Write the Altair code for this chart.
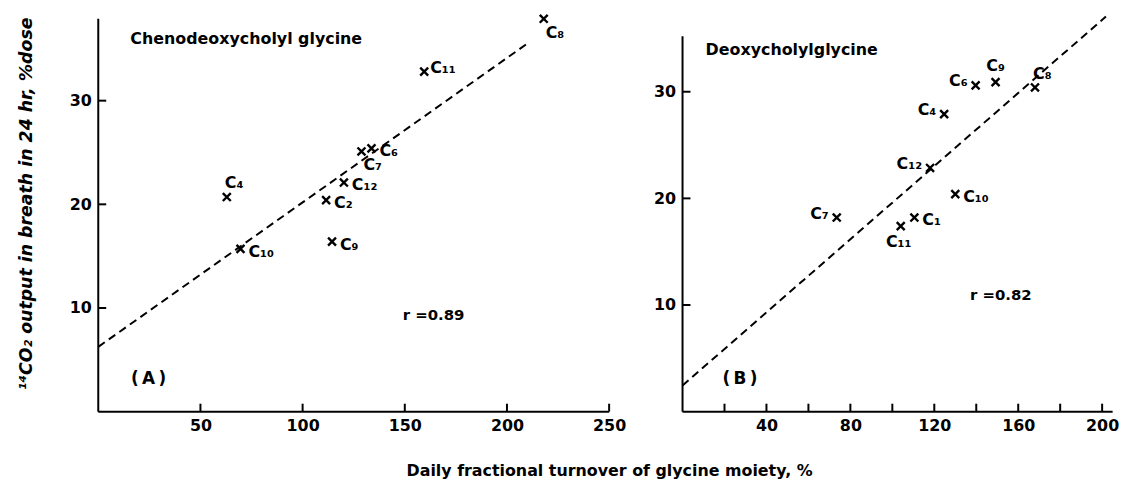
import altair as alt
import pandas as pd

FONT = "DejaVu Sans"
SUB = str.maketrans("0123456789", "₀₁₂₃₄₅₆₇₈₉")

# ---------------- Panel A : Chenodeoxycholylglycine ----------------
a_ids = ["8", "11", "6", "7", "12", "2", "4", "9", "10"]
a_turnover = [218.0, 159.5, 133.7, 128.8, 120.2, 111.5, 62.9, 114.4, 69.6]
a_output = [37.9, 32.8, 25.4, 25.1, 22.1, 20.4, 20.7, 16.4, 15.7]
a_place = ["br", "rr", "r", "br", "r", "r", "ar", "r", "r"]
a_fit_x = [0.0, 210.6]
a_fit_y = [6.25, 35.6]
a_xticks = [50, 100, 150, 200, 250]
a_xlabels = [50, 100, 150, 200, 250]
a_yticks = [10, 20, 30]

# ---------------- Panel B : Deoxycholylglycine ----------------
b_ids = ["8", "9", "6", "4", "12", "10", "1", "11", "7"]
b_turnover = [168.0, 149.2, 139.7, 124.7, 118.0, 130.0, 110.5, 104.0, 73.5]
b_output = [30.4, 30.9, 30.6, 27.9, 22.85, 20.4, 18.2, 17.4, 18.2]
b_place = ["ar", "a", "l", "l", "l", "r", "r", "b", "l"]
b_fit_x = [0.0, 201.8]
b_fit_y = [2.45, 37.05]
b_xticks = [20, 40, 60, 80, 100, 120, 140, 160, 180, 200]
b_xlabels = [40, 80, 120, 160, 200]
b_yticks = [10, 20, 30]

x_title = "Daily fractional turnover of glycine moiety, %"
y_title = "¹⁴CO₂ output in breath in 24 hr, %dose"

PLACE = {
    "r": dict(align="left", baseline="middle", dx=8, dy=3),
    "rr": dict(align="left", baseline="middle", dx=6, dy=-4),
    "l": dict(align="right", baseline="middle", dx=-8, dy=-4),
    "a": dict(align="center", baseline="bottom", dx=0, dy=-8),
    "b": dict(align="center", baseline="top", dx=-2, dy=8),
    "ar": dict(align="left", baseline="bottom", dx=-2, dy=-6),
    "br": dict(align="left", baseline="top", dx=2, dy=6),
}

XPATH = "M-1,-1L1,1M1,-1L-1,1"
H = 400


def panel(ids, xs, ys, place, fit_x, fit_y, xticks, xlabels, yticks,
          xmax, ymax, xline_end, yline_top, W, name, name_x, name_y,
          tag, tag_x, tag_y, rtxt, r_x, r_y, xaxis, yaxis):
    xsc = alt.Scale(domain=[0, xmax], nice=False, zero=False)
    ysc = alt.Scale(domain=[0, ymax], nice=False, zero=False)

    def X(f):
        return alt.X(f, type="quantitative", scale=xsc, axis=xaxis)

    def Y(f):
        return alt.Y(f, type="quantitative", scale=ysc, axis=yaxis)

    pts = pd.DataFrame({
        "x": xs, "y": ys,
        "lab": ["C" + i.translate(SUB) for i in ids],
        "pos": place,
    })

    marks = alt.Chart(pts).mark_point(
        shape=XPATH, size=64, strokeWidth=2.4, filled=False,
        color="black", opacity=1).encode(x=X("x"), y=Y("y"))

    lines = alt.Chart(pd.DataFrame({
        "x": [0, 0], "x1": [0, xline_end], "y": [0, 0], "y1": [yline_top, 0]
    })).mark_rule(color="black", strokeWidth=2).encode(
        x=X("x"), x2="x1", y=Y("y"), y2="y1")

    xt = alt.Chart(pd.DataFrame({"x": xticks})).mark_rule(
        color="black", strokeWidth=2).encode(
        x=X("x"), y=alt.value(H), y2=alt.value(H - 8))
    yt = alt.Chart(pd.DataFrame({"y": yticks})).mark_rule(
        color="black", strokeWidth=2).encode(
        y=Y("y"), x=alt.value(0), x2=alt.value(8))

    fit = alt.Chart(pd.DataFrame({"x": fit_x, "y": fit_y})).mark_line(
        color="black", strokeWidth=2, strokeDash=[8, 5]).encode(
        x=X("x"), y=Y("y"))

    labels = []
    for key in sorted(set(place)):
        labels.append(
            alt.Chart(pts).transform_filter(alt.datum.pos == key).mark_text(
                font=FONT, fontSize=16, fontWeight="bold", color="black",
                **PLACE[key]).encode(x=X("x"), y=Y("y"), text="lab:N"))

    ann = alt.Chart(pd.DataFrame({"t": [name], "x": [name_x], "y": [name_y]})).mark_text(
        font=FONT, fontSize=16, fontWeight="bold", align="left",
        baseline="middle", color="black").encode(x=X("x"), y=Y("y"), text="t:N")
    tagm = alt.Chart(pd.DataFrame({"t": [tag], "x": [tag_x], "y": [tag_y]})).mark_text(
        font=FONT, fontSize=17, fontWeight="bold", align="left",
        baseline="middle", color="black").encode(x=X("x"), y=Y("y"), text="t:N")
    rm = alt.Chart(pd.DataFrame({"t": [rtxt], "x": [r_x], "y": [r_y]})).mark_text(
        font=FONT, fontSize=15, fontWeight="bold", align="left",
        baseline="middle", color="black").encode(x=X("x"), y=Y("y"), text="t:N")

    return alt.layer(marks, lines, xt, yt, fit, *labels, ann, tagm, rm).properties(
        width=W, height=H)


axis_common = dict(domain=False, ticks=False, grid=False, labelFont=FONT,
                   labelFontSize=16, labelFontWeight="bold", labelColor="black",
                   labelFlush=False, labelOverlap=False)

a_xaxis = alt.Axis(values=a_xlabels, labelPadding=6, title=x_title,
                   titleFont=FONT, titleFontSize=16, titleFontWeight="bold",
                   titleColor="black", titleX=515, titleY=59, titleAlign="center",
                   titleBaseline="middle", **axis_common)
a_yaxis = alt.Axis(values=a_yticks, labelPadding=7, title=y_title,
                   titleFont=FONT, titleFontSize=17.5, titleFontWeight="bold",
                   titleFontStyle="italic", titleColor="black", titleX=-72,
                   titleY=190, titleAlign="center", titleBaseline="middle",
                   **axis_common)
b_xaxis = alt.Axis(values=b_xlabels, labelPadding=6, title=None, **axis_common)
b_yaxis = alt.Axis(values=b_yticks, labelPadding=7, title=None, **axis_common)

A = panel(a_ids, a_turnover, a_output, a_place, a_fit_x, a_fit_y, a_xticks,
          a_xlabels, a_yticks, 250, 400 / 10.45, 250, 37.9, 515,
          "Chenodeoxycholyl glycine", 15.7, 35.9, "(\u2009A\u2009)", 16.0, 3.1,
          "r =0.89", 149, 9.3, a_xaxis, a_yaxis)
B = panel(b_ids, b_turnover, b_output, b_place, b_fit_x, b_fit_y, b_xticks,
          b_xlabels, b_yticks, 205, 400 / 10.75, 205, 35.2, 205 * 2.115,
          "Deoxycholylglycine", 11.0, 33.9, "(\u2009B\u2009)", 19.0, 3.1,
          "r =0.82", 137, 10.9, b_xaxis, b_yaxis)

chart = alt.hconcat(A, B, spacing=74, bounds="flush").configure_view(
    stroke=None).properties(
    padding={"left": 9, "top": 0, "right": 0, "bottom": 0},
    autosize=alt.AutoSizeParams(type="pad"),
    background="white")

chart.save("out.html", embed_options={"renderer": "svg", "actions": False})
